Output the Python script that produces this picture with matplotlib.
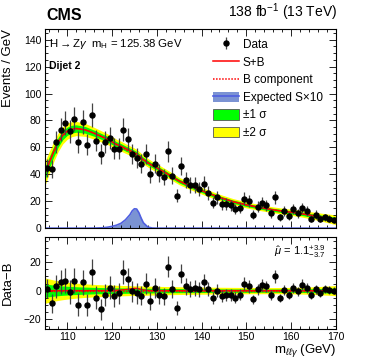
import numpy as np
import matplotlib
matplotlib.use("Agg")
import matplotlib.pyplot as plt
from matplotlib.patches import Patch
from matplotlib.lines import Line2D
from matplotlib.legend_handler import HandlerTuple
from matplotlib.ticker import MultipleLocator

plt.rcParams["font.family"] = ["Liberation Sans", "DejaVu Sans"]
plt.rcParams["mathtext.fontset"] = "custom"
plt.rcParams["mathtext.rm"] = "Liberation Sans"
plt.rcParams["mathtext.it"] = "Liberation Sans:italic"

# --- data points (1 GeV bins) ---
mass = np.arange(105.5, 170.0, 1.0)
events = [45, 44, 64, 73, 78, 72, 81, 64, 79, 62, 84, 65, 55, 64, 67, 59, 59, 73, 66, 55,
          52, 48, 55, 40, 48, 41, 38, 57, 39, 24, 46, 36, 32, 32, 29, 33, 26, 19, 23, 18,
          18, 17, 14, 15, 22, 20, 10, 16, 19, 17, 11, 23, 8, 13, 9, 14, 11, 15, 13, 7,
          10, 7, 8, 7, 6]
resid = [1.4, -9, 3, 6, 7, -1, 7, -10, 6, -10, 13, -5, -13, -3, 2, -4, -2, 13, 8, -0.5,
         -2, -3.5, 5, -7, 2, -3, -4, 17, 1, -12, 12, 3, 1, 2, 1, 6, 1, -5, 0, -4,
         -3, -3, -5, -3, 5, 3, -6, 1, 4, 3, -3, 10, -5, 0.5, -3, 2, -0.5, 4, 2, -3,
         1, -1.5, 1, 0.5, 0]

# --- fit curves ---
grid = [105, 106, 107, 108, 109, 110, 111, 112, 114, 116, 118, 119, 120, 121, 122, 123, 124,
        124.5, 125, 125.5, 126, 126.5, 127, 128, 129, 130, 132, 135, 138, 141, 144, 147,
        150, 153, 156, 159, 162, 165, 168, 170]
bkg = [40.5, 49, 57, 64, 69, 72, 73.5, 74, 73, 70.5, 67.5, 66, 64, 62, 60.5, 58.5, 56.5,
       55.5, 54.5, 53.5, 52.5, 51.5, 50.5, 48.5, 46.5, 44.8, 41, 35, 30.5, 26.5, 22.8, 19.7,
       17.3, 15.3, 13.6, 12.2, 10.9, 9.2, 7.4, 6.2]
sig_x10 = [0, 0, 0, 0, 0, 0, 0, 0, 0, 0.05, 0.3, 0.7, 1.3, 2.2, 3.6, 6.2, 10,
           12.8, 14.4, 14.2, 11.5, 7.5, 4, 0.8, 0.1, 0, 0, 0, 0, 0, 0, 0,
           0, 0, 0, 0, 0, 0, 0, 0]
band2 = [9, 8.2, 7.5, 6.9, 6.4, 6, 5.6, 5.3, 4.8, 4.4, 4.1, 4, 3.9, 3.8, 3.7, 3.6, 3.5,
         3.45, 3.4, 3.4, 3.35, 3.3, 3.3, 3.2, 3.1, 3.05, 2.9, 2.75, 2.6, 2.5, 2.4, 2.3,
         2.25, 2.2, 2.2, 2.25, 2.4, 2.7, 3.2, 3.6]
band1 = [4.7, 4.3, 3.9, 3.6, 3.3, 3.1, 2.9, 2.75, 2.5, 2.3, 2.15, 2.1, 2.05, 2, 1.95, 1.9, 1.85,
         1.8, 1.8, 1.8, 1.75, 1.75, 1.7, 1.7, 1.65, 1.6, 1.55, 1.45, 1.4, 1.3, 1.25, 1.2,
         1.2, 1.15, 1.15, 1.2, 1.25, 1.4, 1.7, 1.9]
mu_hat = 1.1

grid = np.array(grid)
bkg = np.array(bkg)
sig = np.array(sig_x10)
band1 = np.array(band1)
band2 = np.array(band2)
events = np.array(events)
resid = np.array(resid)
err = np.sqrt(events)
sb = bkg + mu_hat * sig / 10.0

GREEN = "#00ff00"
YELLOW = "#ffff00"
SIGFILL = "#7b93d3"
SIGLINE = "#4f5fe0"

fig = plt.figure(figsize=(3.74, 3.61), dpi=100)
ax = fig.add_axes([0.120, 0.368, 0.778, 0.552])
axr = fig.add_axes([0.120, 0.089, 0.778, 0.255])

# top panel
ax.fill_between(grid, sb - band2, sb + band2, color=YELLOW, lw=0)
ax.fill_between(grid, sb - band1, sb + band1, color=GREEN, lw=0)
ax.fill_between(grid, 0, sig, color=SIGFILL, lw=0)
ax.plot(grid, sig, color=SIGLINE, lw=1.2)
ax.plot(grid, bkg, color="red", lw=1.1, ls=(0, (1, 1)))
ax.plot(grid, sb, color="red", lw=1.1)
data_h = ax.errorbar(mass, events, yerr=err, fmt="o", color="black", ms=3.6,
                     ecolor="#444444", elinewidth=0.9, capsize=0)

ax.set_xlim(105, 170)
ax.set_ylim(0, 148)
ax.set_ylabel("Events / GeV", fontsize=9.5, loc="top")
ax.yaxis.set_label_coords(-0.105, 1.0)
ax.tick_params(labelbottom=False)

# residual panel
axr.fill_between(grid, -band2, band2, color=YELLOW, lw=0)
axr.fill_between(grid, -band1, band1, color=GREEN, lw=0)
axr.plot(grid, np.zeros_like(grid), color="red", lw=1.0, ls=(0, (1, 1)))
axr.plot(grid, mu_hat * sig / 10.0, color="red", lw=1.1)
axr.errorbar(mass, resid, yerr=err, fmt="o", color="black", ms=3.6,
             ecolor="#444444", elinewidth=0.9, capsize=0)
axr.set_xlim(105, 170)
axr.set_ylim(-27, 38)
axr.set_ylabel("Data\u2212B", fontsize=9.5)
axr.yaxis.set_label_coords(-0.105, 0.5)
axr.set_xlabel(r"m$_{\ell\ell\gamma}$ (GeV)", fontsize=9.5, loc="right", labelpad=0)
axr.text(0.965, 0.84, r"$\hat{\mu}$ = 1.1$^{+3.9}_{-3.7}$", transform=axr.transAxes,
         ha="right", va="center", fontsize=8)

for a in (ax, axr):
    a.xaxis.set_major_locator(MultipleLocator(10))
    a.xaxis.set_minor_locator(MultipleLocator(2))
    a.yaxis.set_major_locator(MultipleLocator(20))
    a.yaxis.set_minor_locator(MultipleLocator(5))
    a.tick_params(which="both", direction="in", top=True, right=True, labelsize=7.5, pad=2.5)
    a.tick_params(which="major", length=5, width=0.6)
    a.tick_params(which="minor", length=2.5, width=0.6)
    for s in a.spines.values():
        s.set_linewidth(0.8)

# texts
fig.text(0.125, 0.935, "CMS", fontsize=11.5, fontweight="bold", ha="left", va="bottom")
fig.text(0.902, 0.935, r"138 fb$^{-1}$ (13 TeV)", fontsize=10, ha="right", va="bottom")
ax.text(0.015, 0.925, r"H$\rightarrow$Z$\gamma$  m$_{\rm H}$ = 125.38 GeV",
        transform=ax.transAxes, fontsize=8.2, ha="left", va="center")
ax.text(0.015, 0.815, "Dijet 2", transform=ax.transAxes, fontsize=7.5,
        fontweight="bold", ha="left", va="center")

handles = [
    data_h,
    Line2D([], [], color="red", lw=1.1),
    Line2D([], [], color="red", lw=1.1, ls=(0, (1, 1))),
    (Patch(facecolor=SIGFILL, edgecolor="none"), Line2D([], [], color=SIGLINE, lw=1.2)),
    Patch(facecolor=GREEN, edgecolor="#555555", lw=0.6),
    Patch(facecolor=YELLOW, edgecolor="#555555", lw=0.6),
]
labels = ["Data", "S+B", "B component", "Expected S\u00d710", "\u00b11 \u03c3", "\u00b12 \u03c3"]
ax.legend(handles, labels, loc="upper left", bbox_to_anchor=(0.56, 0.975),
          frameon=False, fontsize=8.5, handlelength=2.2, handleheight=1.0,
          handletextpad=0.35, labelspacing=0.45, borderaxespad=0,
          handler_map={tuple: HandlerTuple(ndivide=1, pad=0)})

fig.savefig("out.png", dpi=100)
